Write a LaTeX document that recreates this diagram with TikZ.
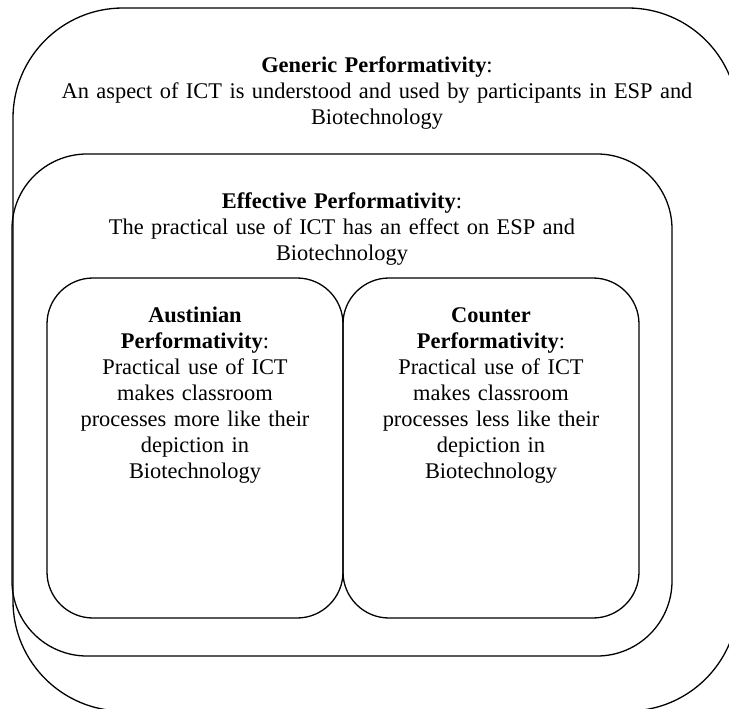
\documentclass[tikz,border=0pt]{standalone}
\usepackage{fontspec}
\setmainfont{Liberation Serif}
\begin{document}
\begin{tikzpicture}[x=1pt,y=-1pt,
  boxline/.style={draw=black,line width=1.3pt},
  txt/.style={anchor=base,inner sep=0pt,align=center,font=\fontsize{22.4}{26}\selectfont}]
\useasboundingbox (0,0) rectangle (729,709);
\clip (0,0) rectangle (729,709);
\fill[white] (0,0) rectangle (729,709);
% boxes
\draw[boxline,rounded corners=110pt] (13,8) rectangle (738,711);
\draw[boxline,rounded corners=75pt] (12,154) rectangle (672,656);
\draw[boxline,rounded corners=46pt] (47,278) rectangle (343,618);
\draw[boxline,rounded corners=46pt] (343,278) rectangle (639,618);
% texts
\node[txt,text width=700pt] (gen) at (377,73) {\textbf{Generic Performativity}:\\An aspect of ICT is understood and used by participants in ESP and\\Biotechnology};
\node[txt,text width=600pt] (eff) at (342,208) {\textbf{Effective Performativity}:\\The practical use of ICT has an effect on ESP and\\Biotechnology};
\node[txt,text width=280pt] (aus) at (195,322) {\textbf{Austinian}\\\textbf{Performativity}:\\Practical use of ICT\\makes classroom\\processes more like their\\depiction in\\Biotechnology};
\node[txt,text width=280pt] (cou) at (491,322) {\textbf{Counter}\\\textbf{Performativity}:\\Practical use of ICT\\makes classroom\\processes less like their\\depiction in\\Biotechnology};
\end{tikzpicture}
\end{document}
